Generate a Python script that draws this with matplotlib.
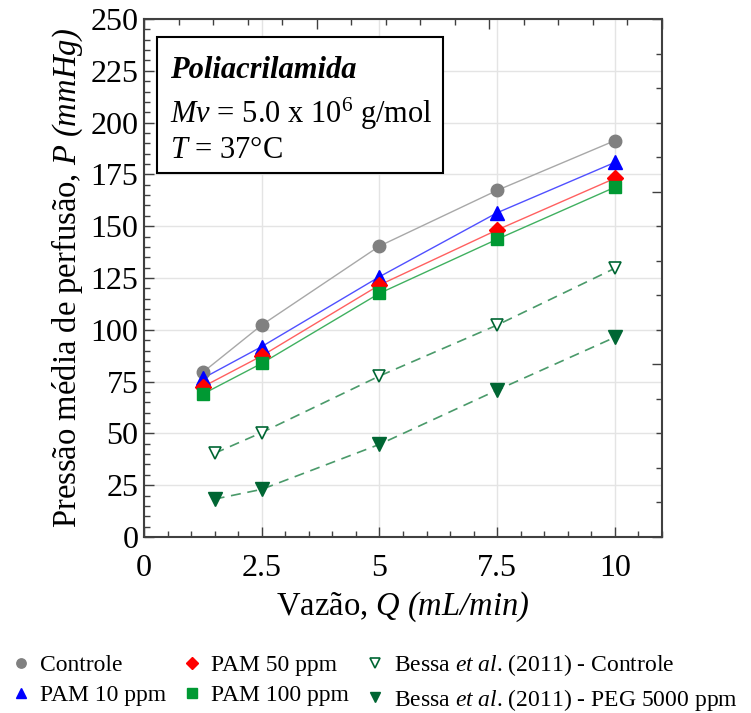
import matplotlib
matplotlib.use("Agg")
import matplotlib.pyplot as plt
from matplotlib.lines import Line2D
from matplotlib.patches import Rectangle
from matplotlib.ticker import MultipleLocator

plt.rcParams["font.family"] = ["Liberation Serif", "DejaVu Serif"]
# math pieces are only used for italic text, so rm is italic too (keeps
# parentheses italic); "bf" is used as an upright face for the exponent
plt.rcParams["mathtext.fontset"] = "custom"
plt.rcParams["mathtext.rm"] = "Liberation Serif:italic"
plt.rcParams["mathtext.it"] = "Liberation Serif:italic"
plt.rcParams["mathtext.bf"] = "Liberation Serif"

# data
q_pam = [1.25, 2.5, 5, 7.5, 10]
controle = [79.5, 102.3, 140.4, 167.3, 191.3]
pam10 = [76.6, 91.9, 125.6, 156.5, 180.8]
pam50 = [72.5, 87.4, 121.6, 148.2, 173.1]
pam100 = [69.0, 83.8, 117.6, 143.7, 168.8]

q_bessa = [1.5, 2.5, 5, 7.5, 10]
bessa_controle = [40.4, 50.4, 77.7, 102.3, 129.7]
bessa_peg = [18.3, 23.0, 44.7, 70.9, 96.4]

x_ticks = [0, 2.5, 5, 7.5, 10]
x_ticklabels = ["0", "2.5", "5", "7.5", "10"]
y_ticks = [0, 25, 50, 75, 100, 125, 150, 175, 200, 225, 250]

fig = plt.figure(figsize=(7.51, 7.13), dpi=100)
pos = [144 / 751, 1 - 537 / 713, 518 / 751, 518 / 713]
ax = fig.add_axes(pos)

series = [
    (q_pam, controle, "Controle", "o", "#808080", "#a8a8a8", 9),
    (q_pam, pam10, "PAM 10 ppm", "^", "#0000ff", "#5050ff", 10),
    (q_pam, pam50, "PAM 50 ppm", "D", "#ff0000", "#ff6060", 8),
    (q_pam, pam100, "PAM 100 ppm", "s", "#009933", "#40b060", 9),
]
handles = []
for x, y, label, m, mc, lc, ms in series:
    ax.plot(x, y, color=lc, lw=1.0, zorder=2)
    ax.plot(x, y, ls="none", marker=m, ms=ms, color=mc, zorder=3)
    handles.append(Line2D([], [], ls="none", marker=m, ms=ms * 0.75, color=mc,
                          label=label))

dash = (6, 4)
ax.plot(q_bessa, bessa_controle, color="#4a9a6a", lw=1.2, ls=(0, dash), zorder=2)
ax.plot(q_bessa, bessa_controle, ls="none", marker="v", ms=9, mfc="white",
        mec="#006633", mew=1.2, zorder=3)
ax.plot(q_bessa, bessa_peg, color="#4a9a6a", lw=1.2, ls=(0, dash), zorder=2)
ax.plot(q_bessa, bessa_peg, ls="none", marker="v", ms=10, color="#006633", zorder=3)
handles.append(Line2D([], [], ls="none", marker="v", ms=7, mfc="white",
                      mec="#006633", mew=1.2,
                      label=r"Bessa $et\ al$. (2011) - Controle"))
handles.append(Line2D([], [], ls="none", marker="v", ms=7.5, color="#006633",
                      label=r"Bessa $et\ al$. (2011) - PEG 5000 ppm"))

ax.set_xlim(0, 11)
ax.set_ylim(0, 250)
ax.set_xticks(x_ticks)
ax.set_xticklabels(x_ticklabels)
ax.set_yticks(y_ticks)
ax.xaxis.set_minor_locator(MultipleLocator(0.5))
ax.yaxis.set_minor_locator(MultipleLocator(5))
ax.tick_params(which="both", direction="in", top=False, right=False,
               color="#404040", labelsize=23)
ax.tick_params(which="major", length=7, width=1)
ax.tick_params(which="minor", length=4, width=1)
ax.tick_params(axis="x", pad=12)
ax.tick_params(axis="y", pad=4)
ax.grid(True, which="major", color="#e4e4e4", lw=1)
ax.set_axisbelow(True)
for s in ax.spines.values():
    s.set_color("#404040")
    s.set_linewidth(1.5)

ax.set_xlabel(r"Vazão, $Q\ (mL/min)$", fontsize=23.5, labelpad=5)
ax.set_ylabel(r"Pressão média de perfusão, $P\ (mmHg)$", fontsize=23.5,
              labelpad=4)

# leftover tick scale on the top and right edges
ax_t = fig.add_axes(pos, frameon=False)
ax_t.set_xlim(0, 15)
ax_t.set_ylim(0, 15)
ax_t.xaxis.tick_top()
ax_t.yaxis.tick_right()
ax_t.xaxis.set_major_locator(MultipleLocator(5))
ax_t.yaxis.set_major_locator(MultipleLocator(5))
ax_t.xaxis.set_minor_locator(MultipleLocator(1))
ax_t.yaxis.set_minor_locator(MultipleLocator(1))
ax_t.tick_params(which="both", direction="in", labeltop=False, labelright=False,
                 color="#404040", width=1)
ax_t.tick_params(which="major", length=7)
ax_t.tick_params(which="minor", length=4)
ax_t.patch.set_visible(False)

# annotation box
ax.add_patch(Rectangle((0.025, 0.703), 0.552, 0.262, transform=ax.transAxes,
                       fill=True, facecolor="white", edgecolor="black", lw=1.5,
                       zorder=4))
ax.text(0.050, 0.886, "Poliacrilamida", transform=ax.transAxes, fontsize=22,
        fontweight="bold", style="italic", va="baseline", zorder=5)
ax.text(0.050, 0.799, r"$Mv$ = 5.0 x 10$^{\mathbf{6}}$ g/mol",
        transform=ax.transAxes, fontsize=22, va="baseline", zorder=5)
ax.text(0.050, 0.732, r"$T$ = 37°C", transform=ax.transAxes, fontsize=22,
        va="baseline", zorder=5)

fig.legend(handles=handles, ncol=3, loc="upper left",
           bbox_to_anchor=(0.0, 1 - 643 / 713), frameon=False, fontsize=17,
           handlelength=1.0, handletextpad=0.3, columnspacing=0.6,
           labelspacing=0.35, borderaxespad=0.0)

fig.savefig("out.png", dpi=100)
